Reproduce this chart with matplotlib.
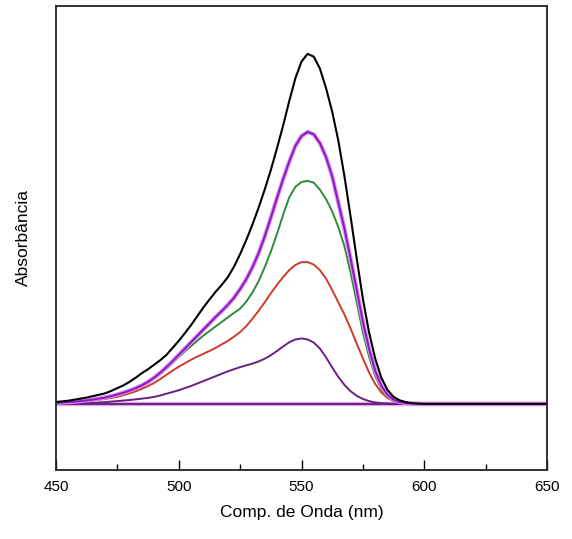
import numpy as np
from matplotlib import pyplot as plt
from matplotlib.ticker import MultipleLocator

plt.rcParams['font.family'] = ['Liberation Sans', 'DejaVu Sans']

# comprimento de onda (nm): 450 a 600 de 2.5 em 2.5, depois ate 650
wl = np.concatenate([np.arange(450, 600.1, 2.5), [610, 620, 630, 640, 650]])

preto = [0.005, 0.007, 0.009, 0.012, 0.015, 0.018, 0.022, 0.026, 0.030, 0.037,
         0.045, 0.053, 0.063, 0.075, 0.088, 0.099, 0.112, 0.125, 0.140, 0.160,
         0.180, 0.202, 0.225, 0.250, 0.275, 0.298, 0.320, 0.340, 0.362, 0.392,
         0.428, 0.468, 0.512, 0.560, 0.612, 0.668, 0.730, 0.795, 0.865, 0.930,
         0.978, 1.000, 0.992, 0.958, 0.902, 0.835, 0.752, 0.650, 0.535, 0.415,
         0.300, 0.205, 0.130, 0.075, 0.040, 0.020, 0.010, 0.005, 0.002, 0.001,
         0.0, 0.0, 0.0, 0.0, 0.0, 0.0]
magenta = [0.003, 0.004, 0.005, 0.006, 0.008, 0.010, 0.012, 0.015, 0.018, 0.022,
           0.027, 0.032, 0.038, 0.045, 0.053, 0.063, 0.075, 0.089, 0.105, 0.122,
           0.140, 0.158, 0.176, 0.194, 0.212, 0.230, 0.248, 0.265, 0.283, 0.303,
           0.328, 0.356, 0.390, 0.430, 0.478, 0.532, 0.588, 0.642, 0.692, 0.737,
           0.765, 0.777, 0.770, 0.745, 0.705, 0.650, 0.575, 0.500, 0.415, 0.325,
           0.235, 0.158, 0.095, 0.052, 0.026, 0.012, 0.005, 0.002, 0.001, 0.0,
           0.0, 0.0, 0.0, 0.0, 0.0, 0.0]
verde = [0.003, 0.004, 0.005, 0.006, 0.008, 0.010, 0.012, 0.014, 0.017, 0.021,
         0.025, 0.030, 0.036, 0.043, 0.050, 0.060, 0.072, 0.085, 0.100, 0.117,
         0.134, 0.150, 0.165, 0.180, 0.195, 0.208, 0.221, 0.234, 0.247, 0.260,
         0.272, 0.292, 0.318, 0.350, 0.390, 0.435, 0.485, 0.540, 0.590, 0.620,
         0.634, 0.637, 0.632, 0.612, 0.585, 0.550, 0.505, 0.450, 0.375, 0.290,
         0.205, 0.135, 0.080, 0.043, 0.020, 0.009, 0.004, 0.002, 0.001, 0.0,
         0.0, 0.0, 0.0, 0.0, 0.0, 0.0]
vermelho = [0.002, 0.003, 0.004, 0.005, 0.006, 0.008, 0.010, 0.012, 0.014, 0.017,
            0.020, 0.025, 0.030, 0.036, 0.043, 0.051, 0.060, 0.071, 0.083, 0.095,
            0.106, 0.116, 0.126, 0.135, 0.143, 0.151, 0.160, 0.170, 0.180, 0.192,
            0.205, 0.222, 0.243, 0.266, 0.290, 0.316, 0.340, 0.362, 0.382, 0.397,
            0.405, 0.405, 0.398, 0.382, 0.358, 0.325, 0.290, 0.255, 0.215, 0.172,
            0.130, 0.090, 0.057, 0.033, 0.017, 0.008, 0.004, 0.002, 0.001, 0.0,
            0.0, 0.0, 0.0, 0.0, 0.0, 0.0]
roxo = [0.0, 0.0005, 0.001, 0.0015, 0.002, 0.0025, 0.003, 0.004, 0.005, 0.0065,
        0.008, 0.0095, 0.011, 0.013, 0.015, 0.017, 0.020, 0.024, 0.029, 0.034,
        0.039, 0.045, 0.051, 0.058, 0.065, 0.072, 0.079, 0.086, 0.093, 0.099,
        0.105, 0.110, 0.115, 0.121, 0.129, 0.139, 0.151, 0.164, 0.176, 0.184,
        0.187, 0.184, 0.175, 0.158, 0.133, 0.104, 0.077, 0.054, 0.036, 0.023,
        0.014, 0.008, 0.004, 0.002, 0.001, 0.0, 0.0, 0.0, 0.0, 0.0,
        0.0, 0.0, 0.0, 0.0, 0.0, 0.0]
branco = [0.0] * len(wl)

fig = plt.figure(figsize=(5.72, 5.39), dpi=100)
ax = fig.add_axes([0.0979, 0.128, 0.8584, 0.861])

# linha de base (varias curvas sobrepostas)
ax.plot(wl, branco, color='#e3a8e8', lw=3.2, solid_capstyle='butt')
ax.plot(wl, branco, color='#5c1a78', lw=1.3)
ax.plot(wl, roxo, color='#6a2080', lw=1.4)
ax.plot(wl, vermelho, color='#d03a2a', lw=1.4)
ax.plot(wl, verde, color='#2e8b3a', lw=1.4)
ax.plot(wl, magenta, color='#dc8ae8', lw=3.0)
ax.plot(wl, magenta, color='#8a18c8', lw=1.4)
ax.plot(wl, preto, color='black', lw=1.5)

ax.set_xlim(450, 650)
ax.set_ylim(-0.189, 1.137)
ax.xaxis.set_major_locator(MultipleLocator(50))
ax.xaxis.set_minor_locator(MultipleLocator(25))
ax.tick_params(axis='x', which='major', direction='in', length=7, width=1, labelsize=11, pad=7)
ax.tick_params(axis='x', which='minor', direction='in', length=4, width=1)
ax.set_yticks([])
for s in ax.spines.values():
    s.set_linewidth(1.3)
    s.set_color('#222222')

ax.set_xlabel('Comp. de Onda (nm)', fontsize=12.5, labelpad=8)
ax.set_ylabel('Absorbância', fontsize=12.5, labelpad=18)

plt.savefig('out.png', dpi=100)
